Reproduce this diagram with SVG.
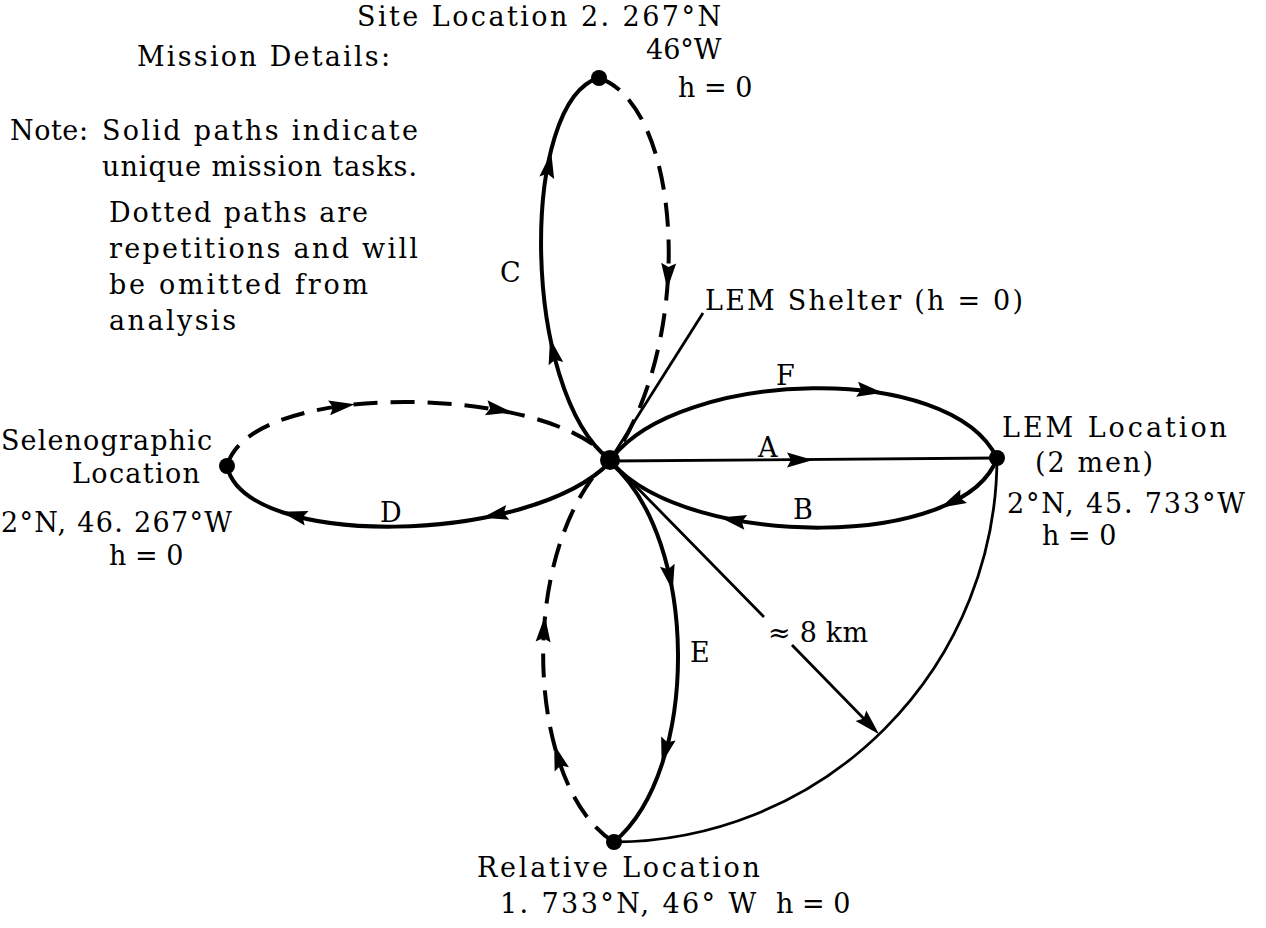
<svg xmlns="http://www.w3.org/2000/svg" width="1266" height="928" viewBox="0 0 1266 928">
<style>
.t{font-family:"DejaVu Serif","Liberation Serif",serif;font-size:27px;fill:#000}
.solid{fill:none;stroke:#000;stroke-width:4}
.dash{fill:none;stroke:#000;stroke-width:4;stroke-dasharray:24 13}
.thin{fill:none;stroke:#000;stroke-width:2.8}
.node{fill:#000}
</style>
<defs><path id="ah" d="M13,0 L-13,-7.5 L-9,0 L-13,7.5 Z" fill="#000"/></defs>
<rect width="1266" height="928" fill="#fff"/>

<g id="notes">
<text class="t" x="137" y="66" textLength="253" lengthAdjust="spacing">Mission Details:</text>
<text class="t" x="10" y="140" textLength="78" lengthAdjust="spacing">Note:</text>
<text class="t" x="102" y="140" textLength="316" lengthAdjust="spacing">Solid paths indicate</text>
<text class="t" x="102" y="176" textLength="315" lengthAdjust="spacing">unique mission tasks.</text>
<text class="t" x="109" y="222" textLength="259" lengthAdjust="spacing">Dotted paths are</text>
<text class="t" x="109" y="258" textLength="309" lengthAdjust="spacing">repetitions and will</text>
<text class="t" x="109" y="294" textLength="259" lengthAdjust="spacing">be omitted from</text>
<text class="t" x="109" y="330" textLength="127" lengthAdjust="spacing">analysis</text>
</g>

<g id="connectors">
<!-- C loop -->
<path class="solid" d="M610,460 C520,390 520,100 599,78"/>
<path class="dash" d="M599,78 C680,105 697,330 615,455"/>
<!-- D loop -->
<path class="dash" d="M227,466 C250,380 540,385 605,455"/>
<path class="solid" d="M610,462 C530,545 245,550 227,466"/>
<!-- F / A / B -->
<path class="solid" d="M612,458 C680,370 950,360 997,458"/>
<path class="thin" d="M612,461 L997,458"/>
<path class="solid" d="M997,458 C965,550 690,550 612,463"/>
<!-- E loop -->
<path class="solid" d="M610,462 C700,540 700,770 614,842"/>
<path class="dash" d="M614,842 C530,790 515,570 600,468"/>
<!-- LEM shelter leader -->
<path class="thin" d="M703,313 L610,460"/>
<!-- radius arc and 8 km -->
<path class="thin" d="M997,458 A385,385 0 0 1 614,842"/>
<path class="thin" d="M612,462 L764,617 M792,645 L872,727"/>
<!-- arrowheads -->
<use href="#ah" transform="translate(553,351) rotate(-103)"/>
<use href="#ah" transform="translate(549,165) rotate(-80)"/>
<use href="#ah" transform="translate(668,276) rotate(93)"/>
<use href="#ah" transform="translate(342,406) rotate(-8)"/>
<use href="#ah" transform="translate(499,410) rotate(10)"/>
<use href="#ah" transform="translate(495,515) rotate(168)"/>
<use href="#ah" transform="translate(294,515) rotate(195)"/>
<use href="#ah" transform="translate(870,391) rotate(7.5)"/>
<use href="#ah" transform="translate(800,460) rotate(0)"/>
<use href="#ah" transform="translate(952,502) rotate(154)"/>
<use href="#ah" transform="translate(733,520) rotate(191)"/>
<use href="#ah" transform="translate(670,578) rotate(78)"/>
<use href="#ah" transform="translate(665,751) rotate(105)"/>
<use href="#ah" transform="translate(544,629) rotate(-86)"/>
<use href="#ah" transform="translate(558,757) rotate(-107)"/>
<use href="#ah" transform="translate(870,725) rotate(45.6)"/>
</g>

<g id="labels">
<text class="t" x="500" y="282">C</text>
<text class="t" x="776" y="385">F</text>
<text class="t" x="758" y="457">A</text>
<text class="t" x="793" y="519">B</text>
<text class="t" x="380" y="522">D</text>
<text class="t" x="690" y="662">E</text>
<text class="t" x="768" y="642" textLength="100" lengthAdjust="spacing">≈ 8 km</text>
<text class="t" x="705" y="310" textLength="318" lengthAdjust="spacing">LEM Shelter (h = 0)</text>
</g>

<g id="hub"><circle class="node" cx="610" cy="460" r="10"/></g>

<g id="site">
<circle class="node" cx="599" cy="78" r="8"/>
<text class="t" x="357" y="26" textLength="364" lengthAdjust="spacing">Site Location 2. 267°N</text>
<text class="t" x="646" y="59">46°W</text>
<text class="t" x="678" y="97">h = 0</text>
</g>

<g id="selenographic">
<circle class="node" cx="227" cy="466" r="8"/>
<text class="t" x="1" y="450" textLength="211" lengthAdjust="spacing">Selenographic</text>
<text class="t" x="72" y="483" textLength="128" lengthAdjust="spacing">Location</text>
<text class="t" x="1" y="532" textLength="231" lengthAdjust="spacing">2°N, 46. 267°W</text>
<text class="t" x="109" y="565">h = 0</text>
</g>

<g id="lem">
<circle class="node" cx="997" cy="458" r="8"/>
<text class="t" x="1002" y="437" textLength="225" lengthAdjust="spacing">LEM Location</text>
<text class="t" x="1035" y="472" textLength="118" lengthAdjust="spacing">(2 men)</text>
<text class="t" x="1007" y="513" textLength="238" lengthAdjust="spacing">2°N, 45. 733°W</text>
<text class="t" x="1042" y="545">h = 0</text>
</g>

<g id="relative">
<circle class="node" cx="614" cy="842" r="8"/>
<text class="t" x="477" y="877" textLength="283" lengthAdjust="spacing">Relative Location</text>
<text class="t" y="913"><tspan x="500" style="letter-spacing:2.4px">1. 733°N, 46° W </tspan><tspan x="776">h = 0</tspan></text>
</g>
</svg>
